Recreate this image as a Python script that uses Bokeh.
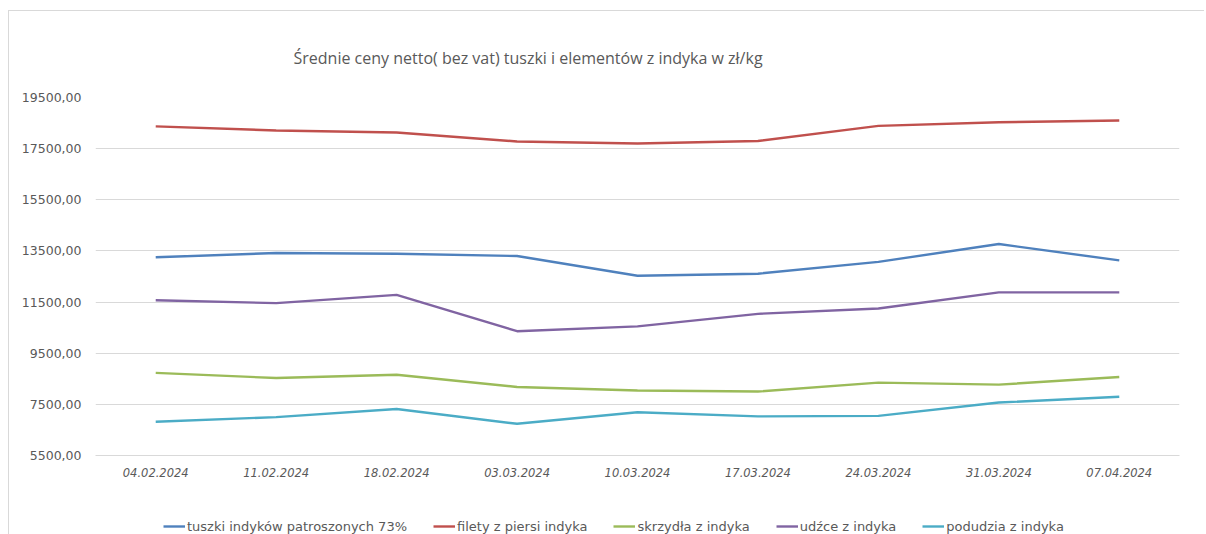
from bokeh.plotting import figure
from bokeh.layouts import column
from bokeh.models import (FactorRange, Range1d, FixedTicker, CustomJSTickFormatter,
                          Legend, LegendItem)
from bokeh.embed import file_html
from bokeh.resources import INLINE

dates = ["04.02.2024", "11.02.2024", "18.02.2024", "03.03.2024", "10.03.2024",
         "17.03.2024", "24.03.2024", "31.03.2024", "07.04.2024"]

tuszki = [13250, 13420, 13390, 13300, 12530, 12610, 13070, 13770, 13130]
filety = [18370, 18210, 18130, 17780, 17700, 17800, 18390, 18530, 18600]
skrzydla = [8730, 8530, 8660, 8180, 8040, 8000, 8350, 8270, 8570]
udzce = [11570, 11460, 11780, 10360, 10550, 11040, 11250, 11880, 11880]
podudzia = [6820, 7000, 7320, 6740, 7190, 7030, 7050, 7570, 7800]

series_names = ["tuszki indyków patroszonych 73%", "filety z piersi indyka",
                "skrzydła z indyka", "udźce z indyka", "podudzia z indyka"]
series_values = [tuszki, filety, skrzydla, udzce, podudzia]
series_colors = ["#4F81BD", "#C0504D", "#9BBB59", "#8064A2", "#4BACC6"]

y_ticks = [5500, 7500, 9500, 11500, 13500, 15500, 17500, 19500]

title_text = "Średnie ceny netto( bez vat) tuszki i elementów z indyka w zł/kg"

p = figure(x_range=FactorRange(*dates, range_padding=0),
           y_range=Range1d(5500, 19500),
           frame_width=1083, frame_height=357,
           min_border_left=86, min_border_right=26, min_border_top=86, min_border_bottom=46,
           output_backend="svg", toolbar_location=None,
           title=title_text)
p.margin = (10, 0, 0, 8)
p.styles = {"border-left": "1px solid #d9d9d9", "border-top": "1px solid #d9d9d9"}

p.title.text_font = "Open Sans"
p.title.text_font_size = "16px"
p.title.text_font_style = "normal"
p.title.text_color = "#595959"
p.title.align = "left"
p.title.offset = 198
p.title.standoff = 58

p.outline_line_color = None
p.background_fill_color = "white"
p.border_fill_color = "white"

p.xgrid.grid_line_color = None
p.ygrid.grid_line_color = "#d9d9d9"
p.ygrid.grid_line_width = 1

p.yaxis.ticker = FixedTicker(ticks=y_ticks)
p.yaxis.formatter = CustomJSTickFormatter(code="return tick.toFixed(2).replace('.', ',');")
p.yaxis.axis_line_color = None
p.yaxis.major_tick_line_color = None
p.yaxis.minor_tick_line_color = None
p.yaxis.major_label_standoff = 8
p.yaxis.major_label_text_font = "DejaVu Sans"
p.yaxis.major_label_text_font_size = "12.5px"
p.yaxis.major_label_text_color = "#595959"

p.xaxis.axis_line_color = "#d9d9d9"
p.xaxis.major_tick_line_color = None
p.xaxis.minor_tick_line_color = None
p.xaxis.major_label_standoff = 6
p.xaxis.major_label_text_font = "DejaVu Sans"
p.xaxis.major_label_text_font_size = "11.5px"
p.xaxis.major_label_text_font_style = "italic"
p.xaxis.major_label_text_color = "#595959"

for name, vals, col in zip(series_names, series_values, series_colors):
    p.line(dates, vals, line_color=col, line_width=2.4)

# legend strip below the chart
lg = figure(x_range=Range1d(0, 1), y_range=Range1d(0, 1),
            frame_width=1083, frame_height=34,
            min_border_left=86, min_border_right=26, min_border_top=0, min_border_bottom=0,
            x_axis_type=None, y_axis_type=None,
            output_backend="svg", toolbar_location=None)
lg.margin = (0, 0, 0, 8)
lg.styles = {"border-left": "1px solid #d9d9d9"}
lg.outline_line_color = None
lg.xgrid.grid_line_color = None
lg.ygrid.grid_line_color = None
lg.border_fill_color = "white"

items = []
for name, col in zip(series_names, series_colors):
    r = lg.line([5, 6], [5, 5], line_color=col, line_width=2.4)
    items.append(LegendItem(label=name, renderers=[r]))

legend = Legend(items=items, orientation="horizontal", location=(68, 0))
legend.border_line_color = None
legend.background_fill_alpha = 0
legend.label_text_font = "DejaVu Sans"
legend.label_text_font_size = "13px"
legend.label_text_color = "#595959"
legend.glyph_width = 22
legend.glyph_height = 16
legend.label_height = 16
legend.label_standoff = 2
legend.spacing = 26
legend.padding = 0
legend.margin = 0
lg.add_layout(legend, "center")

layout = column(p, lg, spacing=0)
open("out.html", "w").write(file_html(layout, INLINE))
